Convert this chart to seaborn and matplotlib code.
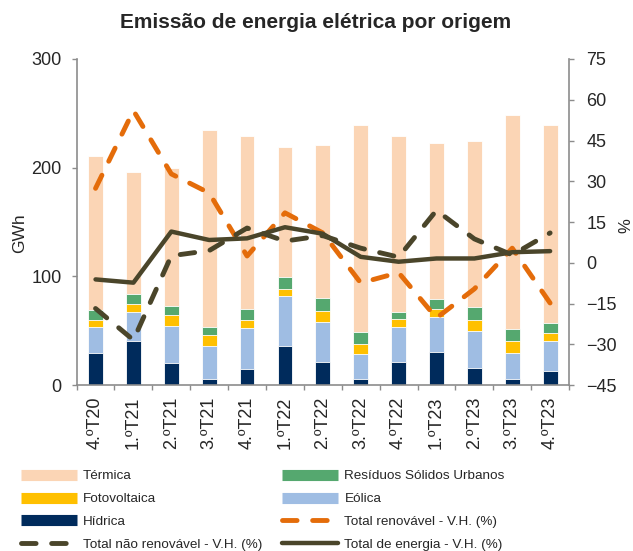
import numpy as np
import pandas as pd
import matplotlib
matplotlib.use("Agg")
import matplotlib.pyplot as plt
from matplotlib.lines import Line2D
import seaborn as sns

categories = ["4.ºT20", "1.ºT21", "2.ºT21", "3.ºT21", "4.ºT21", "1.ºT22", "2.ºT22",
              "3.ºT22", "4.ºT22", "1.ºT23", "2.ºT23", "3.ºT23", "4.ºT23"]
hidrica = [30.0, 40.5, 20.5, 5.5, 15.3, 36.2, 21.5, 6.1, 21.2, 30.7, 15.6, 5.5, 12.9]
eolica = [23.7, 27.0, 34.1, 30.5, 37.7, 45.4, 36.8, 22.1, 32.5, 31.6, 33.8, 24.5, 27.6]
fotovoltaica = [6.1, 7.0, 9.8, 10.3, 6.8, 7.0, 10.1, 9.8, 6.7, 7.3, 10.4, 10.5, 7.3]
rsu = [9.2, 9.2, 8.6, 7.1, 9.8, 10.8, 11.9, 10.8, 6.8, 9.5, 12.2, 11.3, 9.2]
termica = [142.0, 112.0, 127.0, 181.2, 159.2, 119.9, 140.7, 190.7, 162.2, 143.5, 152.5, 196.2, 182.2]

vh_renovavel = [27.4, 56.0, 32.7, 25.7, 2.5, 18.4, 11.0, -7.4, -3.6, -20.3, -9.6, 5.4, -14.8]
vh_nao_renovavel = [-16.8, -28.4, 2.6, 4.5, 12.8, 8.0, 10.0, 5.4, 2.1, 19.3, 8.8, 2.9, 11.0]
vh_total = [-6.1, -7.3, 11.5, 8.4, 9.0, 13.1, 10.7, 2.2, 0.4, 1.6, 1.6, 3.9, 4.3]

sns.set_style("white")
plt.rcParams["font.family"] = ["Liberation Sans", "DejaVu Sans"]

c_term = "#FBD5B5"
c_rsu = "#55A86F"
c_foto = "#FFC000"
c_eol = "#9FBDE3"
c_hid = "#002B5C"
c_ren = "#E46C0A"
c_dark = "#4A452A"
gray = "#8C8C8C"

fig = plt.figure(figsize=(6.33, 5.51), dpi=100)
ax = fig.add_axes([0.121, 0.301, 0.778, 0.592])

df = pd.DataFrame({"cat": categories, "Hídrica": hidrica, "Eólica": eolica,
                   "Fotovoltaica": fotovoltaica, "RSU": rsu, "Térmica": termica})
order = ["Hídrica", "Eólica", "Fotovoltaica", "RSU", "Térmica"]
colors = {"Hídrica": c_hid, "Eólica": c_eol, "Fotovoltaica": c_foto, "RSU": c_rsu, "Térmica": c_term}
cum = df[order].cumsum(axis=1)
for name in reversed(order):
    sns.barplot(x=df["cat"], y=cum[name], color=colors[name], ax=ax, width=0.39,
                saturation=1, edgecolor="white", linewidth=0.6, order=categories)

ax.set_xlim(-0.5, 12.5)
ax.set_ylim(0, 300)
ax.set_yticks([0, 100, 200, 300])
ax.set_xlabel("")
ax.set_ylabel("")
ax.set_xticks(range(13))
ax.set_xticklabels(categories, rotation=90, fontsize=13)
ax.tick_params(axis="x", which="major", length=0, pad=8)
ax.set_xticks(np.arange(-0.5, 13, 1), minor=True)
ax.tick_params(axis="x", which="minor", length=3.6, color=gray, width=1, direction="out", bottom=True)
ax.tick_params(axis="y", length=3.6, color=gray, width=1, direction="out", left=True,
               labelsize=13, pad=7)
for s in ["left", "bottom"]:
    ax.spines[s].set_color(gray)
    ax.spines[s].set_linewidth(1.2)
ax.spines["top"].set_visible(False)
ax.spines["right"].set_visible(False)

ax2 = ax.twinx()
xs = np.arange(13)
sns.lineplot(x=xs, y=vh_renovavel, ax=ax2, color=c_ren, linewidth=3.5, sort=False)
sns.lineplot(x=xs, y=vh_nao_renovavel, ax=ax2, color=c_dark, linewidth=3.5, sort=False)
sns.lineplot(x=xs, y=vh_total, ax=ax2, color=c_dark, linewidth=3.2, sort=False)
lines = ax2.get_lines()
for ln in lines[:2]:
    ln.set_dashes([3.0, 3.2])
    ln.set_dash_capstyle("round")
lines[2].set_solid_capstyle("round")
lines[2].set_solid_joinstyle("round")
ax2.set_ylim(-45, 75)
ax2.set_yticks(np.arange(-45, 76, 15))
ax2.set_ylabel("")
ax2.tick_params(axis="y", length=3.6, color=gray, width=1, direction="out", right=True,
                labelsize=13, pad=9)
for s in ["left", "bottom", "top"]:
    ax2.spines[s].set_visible(False)
ax2.spines["right"].set_color(gray)
ax2.spines["right"].set_linewidth(1.2)
ax2.grid(False)
ax.grid(False)

fig.text(0.499, 0.96, "Emissão de energia elétrica por origem", fontsize=15,
         fontweight="bold", ha="center", va="center")
fig.text(20 / 633, 1 - 233 / 551, "GWh", fontsize=12.5, rotation=90, ha="center", va="center")
fig.text(626 / 633, 1 - 226 / 551, "%", fontsize=12, rotation=90, ha="center", va="center")

handles = [
    Line2D([], [], color=c_term, linewidth=8, solid_capstyle="butt"),
    Line2D([], [], color=c_foto, linewidth=8, solid_capstyle="butt"),
    Line2D([], [], color=c_hid, linewidth=8, solid_capstyle="butt"),
    Line2D([], [], color=c_dark, linewidth=3.5, dashes=[3.0, 3.2], dash_capstyle="round"),
    Line2D([], [], color=c_rsu, linewidth=8, solid_capstyle="butt"),
    Line2D([], [], color=c_eol, linewidth=8, solid_capstyle="butt"),
    Line2D([], [], color=c_ren, linewidth=3.5, dashes=[3.0, 3.2], dash_capstyle="round"),
    Line2D([], [], color=c_dark, linewidth=3.2, solid_capstyle="round"),
]
labels = ["Térmica", "Fotovoltaica", "Hídrica", "Total não renovável - V.H. (%)",
          "Resíduos Sólidos Urbanos", "Eólica", "Total renovável - V.H. (%)",
          "Total de energia - V.H. (%)"]
fig.legend(handles, labels, ncol=2, loc="upper left", bbox_to_anchor=(0.033, 0.147),
           frameon=False, fontsize=9.7, handlelength=4.15, handletextpad=0.45,
           columnspacing=1.5, labelspacing=0.77, borderaxespad=0, borderpad=0)

fig.savefig("out.png", dpi=100)
